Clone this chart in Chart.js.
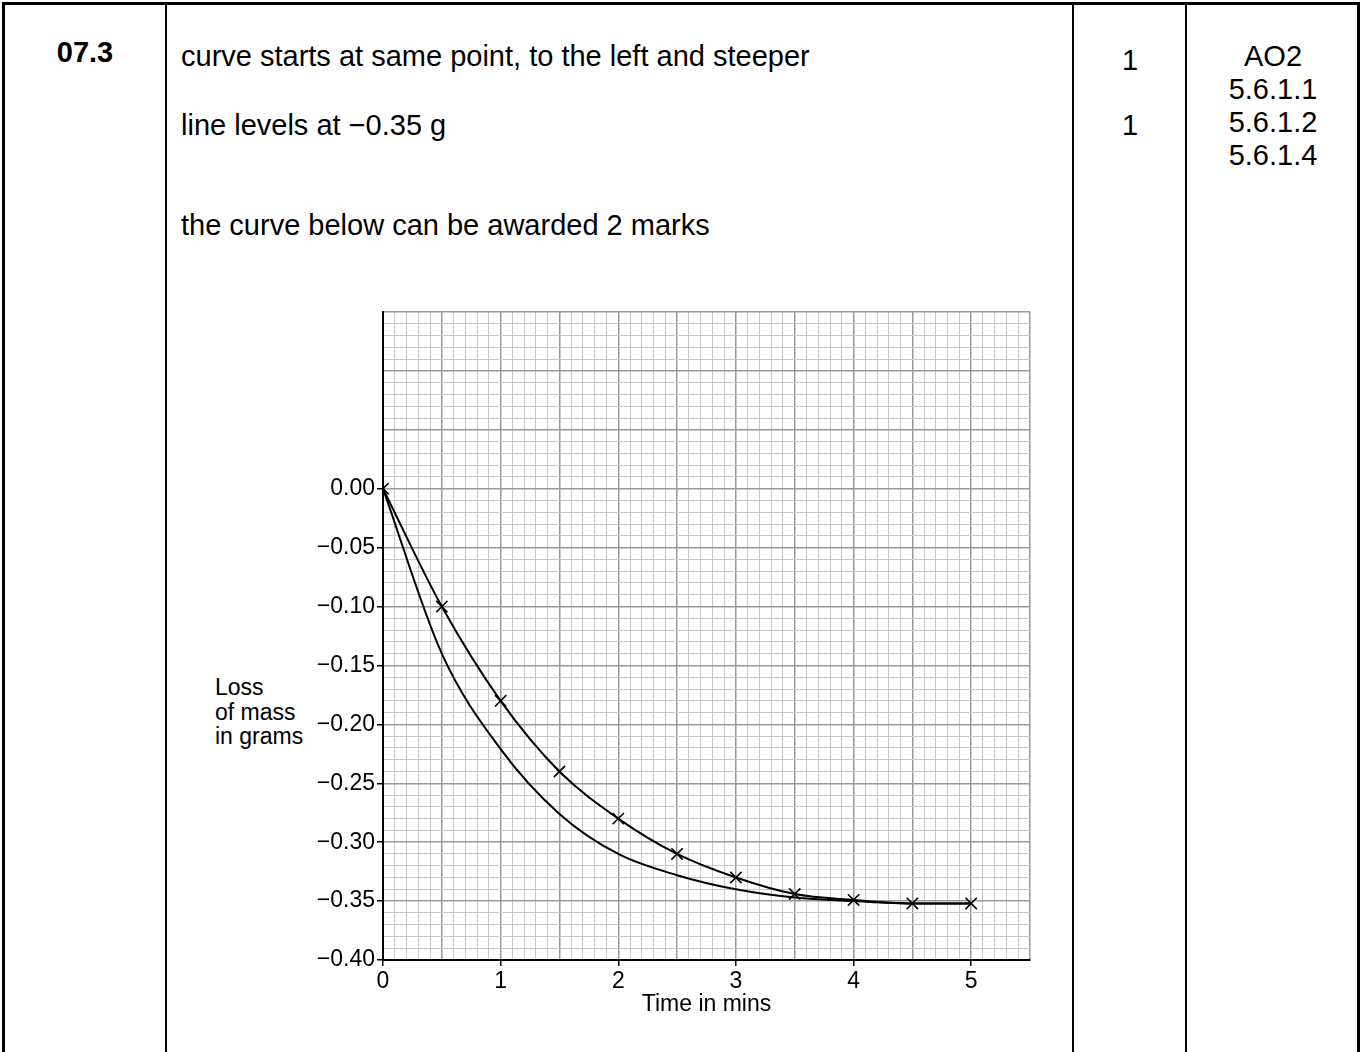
<!DOCTYPE html>
<html>
<head>
<meta charset="utf-8">
<script src="https://cdn.jsdelivr.net/npm/chart.js@4.4.0/dist/chart.umd.min.js"></script>
<style>
  body { margin: 0; background: #fff; font-family: "Liberation Sans", Arial, sans-serif; color: #000; }
  .page { position: relative; width: 1362px; height: 1052px; overflow: hidden; }
  .ln { position: absolute; background: #000; }
  .txt { position: absolute; font-size: 29px; line-height: 33px; white-space: nowrap; }
  #chartBox { position: absolute; left: 200px; top: 290px; }
  .ytitle { position: absolute; left: 215px; top: 675px; font-size: 23px; line-height: 24.5px; }
</style>
</head>
<body>
<div class="page">
  <!-- table lines -->
  <div class="ln" style="left:2px;top:2px;width:1358px;height:3px"></div>
  <div class="ln" style="left:2px;top:2px;width:3px;height:1060px"></div>
  <div class="ln" style="left:165px;top:2px;width:2px;height:1060px"></div>
  <div class="ln" style="left:1072px;top:2px;width:2px;height:1060px"></div>
  <div class="ln" style="left:1185px;top:2px;width:2px;height:1060px"></div>
  <div class="ln" style="left:1357px;top:2px;width:3px;height:1060px"></div>

  <div class="txt" style="left:5px;top:36px;width:160px;text-align:center;font-weight:bold">07.3</div>
  <div class="txt" style="left:181px;top:40px">curve starts at same point, to the left and steeper</div>
  <div class="txt" style="left:181px;top:109px">line levels at −0.35 g</div>
  <div class="txt" style="left:181px;top:209px">the curve below can be awarded 2 marks</div>
  <div class="txt" style="left:1100px;top:44px;width:60px;text-align:center">1</div>
  <div class="txt" style="left:1100px;top:109px;width:60px;text-align:center">1</div>
  <div class="txt" style="left:1187px;top:40px;width:172px;text-align:center">AO2<br>5.6.1.1<br>5.6.1.2<br>5.6.1.4</div>

  <div class="ytitle">Loss<br>of mass<br>in grams</div>
  <div id="chartBox"><canvas id="myChart" width="860" height="740"></canvas></div>
</div>
<script>
// time in minutes
const times = [0, 0.5, 1, 1.5, 2, 2.5, 3, 3.5, 4, 4.5, 5];
// plotted results (marked with crosses)
const lossMeasured = [0, -0.10, -0.18, -0.24, -0.28, -0.31, -0.33, -0.344, -0.349, -0.352, -0.352];
// the steeper answer curve
const lossSteeper = [0, -0.14, -0.221, -0.276, -0.31, -0.328, -0.34, -0.347, -0.350, -0.352, -0.352];
// tick labels
const xLabels = [0, 1, 2, 3, 4, 5];
const yLabels = [0, -0.05, -0.10, -0.15, -0.20, -0.25, -0.30, -0.35, -0.40];

function toPoints(arr) {
  let pts = [];
  for (let i = 0; i < times.length; i++) {
    pts.push({x: times[i], y: arr[i]});
  }
  return pts;
}

function isYLabel(v) {
  return yLabels.some(l => Math.abs(l - v) < 0.0001);
}
function isXLabel(v) {
  return xLabels.some(l => Math.abs(l - v) < 0.0001);
}
function fmtY(v) {
  let s = Math.abs(v).toFixed(2);
  return v < -0.0001 ? '\u2212' + s : s;
}

const MAJOR = '#999999';
const MINOR = '#c8c8c8';
const FONT = { family: 'Liberation Sans', size: 23 };

const config = {
  type: 'line',
  data: {
    datasets: [
      {
        label: 'measured',
        data: toPoints(lossMeasured),
        borderColor: '#000',
        borderWidth: 2,
        pointStyle: 'crossRot',
        pointRadius: 8,
        pointBorderWidth: 1.6,
        pointBorderColor: '#000',
        cubicInterpolationMode: 'monotone',
        fill: false
      },
      {
        label: 'steeper',
        data: toPoints(lossSteeper),
        borderColor: '#000',
        borderWidth: 2,
        pointRadius: 0,
        cubicInterpolationMode: 'monotone',
        fill: false
      }
    ]
  },
  options: {
    responsive: false,
    animation: false,
    layout: { padding: { top: 22, right: 30, left: 0, bottom: 12 } },
    plugins: { legend: { display: false }, tooltip: { enabled: false } },
    scales: {
      x: {
        type: 'linear',
        min: 0,
        max: 5.5,
        afterFit: s => { s.height = 58; },
        border: { display: true, color: '#000', width: 2 },
        grid: {
          color: c => (Math.round(c.tick.value * 10) % 5 === 0 ? MAJOR : MINOR),
          lineWidth: c => (Math.round(c.tick.value * 10) % 5 === 0 ? 1.5 : 1),
          tickLength: 6,
          tickColor: c => (isXLabel(c.tick.value) ? '#000' : 'rgba(0,0,0,0)'),
          tickWidth: 1.5
        },
        ticks: {
          stepSize: 0.1,
          autoSkip: false,
          maxRotation: 0,
          color: '#000',
          font: FONT,
          padding: 2,
          callback: v => (isXLabel(v) ? String(Math.round(v)) : '')
        },
        title: {
          display: true,
          text: 'Time in mins',
          color: '#000',
          font: FONT,
          padding: { top: 0, bottom: 0 }
        }
      },
      y: {
        type: 'linear',
        min: -0.40,
        max: 0.15,
        afterFit: s => { s.width = 183; },
        border: { display: true, color: '#000', width: 2 },
        grid: {
          color: c => (Math.round(c.tick.value * 100) % 5 === 0 ? MAJOR : MINOR),
          lineWidth: c => (Math.round(c.tick.value * 100) % 5 === 0 ? 1.5 : 1),
          tickLength: 6,
          tickColor: c => (isYLabel(c.tick.value) ? '#000' : 'rgba(0,0,0,0)'),
          tickWidth: 1.5
        },
        ticks: {
          stepSize: 0.01,
          autoSkip: false,
          color: '#000',
          font: FONT,
          padding: 2,
          callback: v => (isYLabel(v) ? fmtY(v) : '')
        }
      }
    }
  }
};

const myChart = new Chart(document.getElementById('myChart'), config);
</script>
</body>
</html>
